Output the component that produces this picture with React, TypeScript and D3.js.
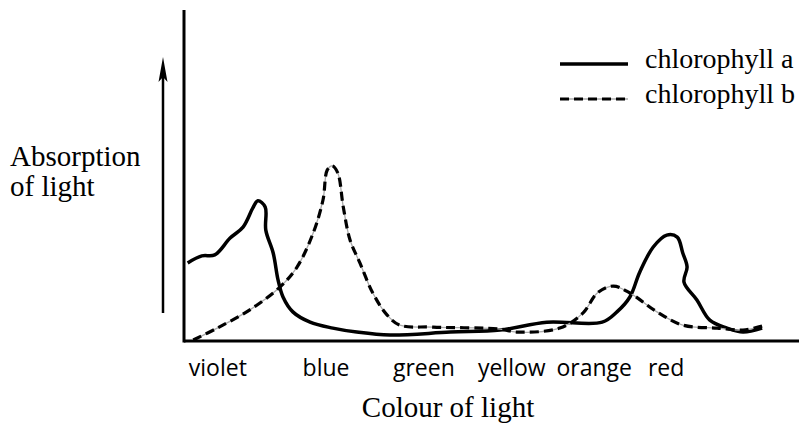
import { useEffect } from "react";
import * as d3 from "d3";

// readings: x is position along the spectrum (0..100), y is absorption (0..100)
const chlAX = [0.6, 2.9, 5.0, 7.5, 9.6, 11.2, 12.0, 13.2, 13.3, 14.5, 15.3, 16.1, 17.7, 20.5, 24.2, 28.1, 33.5, 43.3, 51.4, 59.0, 68.0, 70.4, 72.5, 74.1, 76.3, 78.5, 80.2, 81.1, 81.8, 81.3, 83.4, 85.5, 88.3, 90.9, 94.0];
const chlAY = [23.6, 25.7, 26.0, 31.1, 34.4, 40.2, 42.4, 40.5, 33.5, 26.6, 18.4, 13.3, 8.8, 5.7, 3.9, 2.7, 1.8, 2.7, 3.3, 5.7, 5.7, 8.8, 13.3, 20.8, 28.4, 32.0, 31.4, 26.6, 22.4, 17.8, 12.4, 6.3, 3.9, 2.7, 3.9];

const chlBX = [1.5, 5.4, 10.7, 15.6, 18.4, 21.0, 22.6, 23.3, 24.1, 25.0, 25.9, 27.0, 28.6, 30.7, 33.0, 35.1, 40.5, 51.4, 54.1, 61.1, 64.9, 67.2, 69.8, 72.5, 76.9, 81.1, 86.7, 90.9, 94.0];
const chlBY = [0.3, 3.9, 9.4, 16.3, 22.4, 32.6, 42.6, 51.7, 52.9, 50.8, 40.5, 30.5, 23.6, 14.5, 7.9, 4.8, 4.2, 3.6, 2.7, 3.9, 8.5, 14.5, 16.6, 14.5, 8.8, 4.8, 3.9, 3.3, 4.5];

const colourLabels = ["violet", "blue", "green", "yellow", "orange", "red"];
const colourPos = [5.5, 23.1, 39.0, 53.3, 66.7, 78.4];

const seriesNames = ["chlorophyll a", "chlorophyll b"];

const W = 799;
const H = 427;

export default function App() {
  useEffect(() => {
    document.body.style.margin = "0";
  }, []);

  const x = d3.scaleLinear().domain([0, 100]).range([184, 799]);
  const y = d3.scaleLinear().domain([0, 100]).range([341, 10]);

  const line = d3
    .line<[number, number]>()
    .x((d) => x(d[0]))
    .y((d) => y(d[1]))
    .curve(d3.curveCatmullRom.alpha(0.5));

  const aPath = line(chlAX.map((v, i) => [v, chlAY[i]]) as [number, number][]) || "";
  const bPath = line(chlBX.map((v, i) => [v, chlBY[i]]) as [number, number][]) || "";

  const serif = "Liberation Serif, DejaVu Serif, serif";
  const sans = "Open Sans, Noto Sans, sans-serif";

  return (
    <svg width={W} height={H} viewBox={`0 0 ${W} ${H}`} style={{ display: "block" }}>
      <rect width={W} height={H} fill="#fff" />

      {/* curves */}
      <path d={aPath} fill="none" stroke="#000" strokeWidth={3.5} strokeLinejoin="round" />
      <path d={bPath} fill="none" stroke="#aaa" strokeWidth={1.3} />
      <path d={bPath} fill="none" stroke="#000" strokeWidth={3.2} strokeDasharray="9 5" />

      {/* axes */}
      <line x1={x(0)} x2={x(0)} y1={y(100)} y2={y(0) + 1.5} stroke="#000" strokeWidth={3} />
      <line x1={x(0)} x2={x(100)} y1={y(0)} y2={y(0)} stroke="#000" strokeWidth={3} />

      {/* arrow */}
      <line x1={163} x2={163} y1={313} y2={74} stroke="#000" strokeWidth={2.5} />
      <path d="M163,57 L158.5,82 L163,77 L167.5,82 Z" fill="#000" />

      <text x={10} y={166} fontFamily={serif} fontSize={29} fill="#000">Absorption</text>
      <text x={10} y={196} fontFamily={serif} fontSize={29} fill="#000">of light</text>

      {/* colour labels */}
      {colourLabels.map((c, i) => (
        <text key={c} x={x(colourPos[i])} y={376} textAnchor="middle" fontFamily={sans} fontSize={23} fill="#000">
          {c}
        </text>
      ))}

      <text x={448} y={417} textAnchor="middle" fontFamily={serif} fontSize={29} fill="#000">Colour of light</text>

      {/* legend */}
      <line x1={560} x2={628} y1={64} y2={64} stroke="#000" strokeWidth={3.5} />
      <text x={645} y={68} fontFamily={serif} fontSize={28} fill="#000">{seriesNames[0]}</text>
      <line x1={560} x2={628} y1={99} y2={99} stroke="#aaa" strokeWidth={1.3} />
      <line x1={560} x2={628} y1={99} y2={99} stroke="#000" strokeWidth={3.2} strokeDasharray="9 5" />
      <text x={645} y={103} fontFamily={serif} fontSize={28} fill="#000">{seriesNames[1]}</text>
    </svg>
  );
}
